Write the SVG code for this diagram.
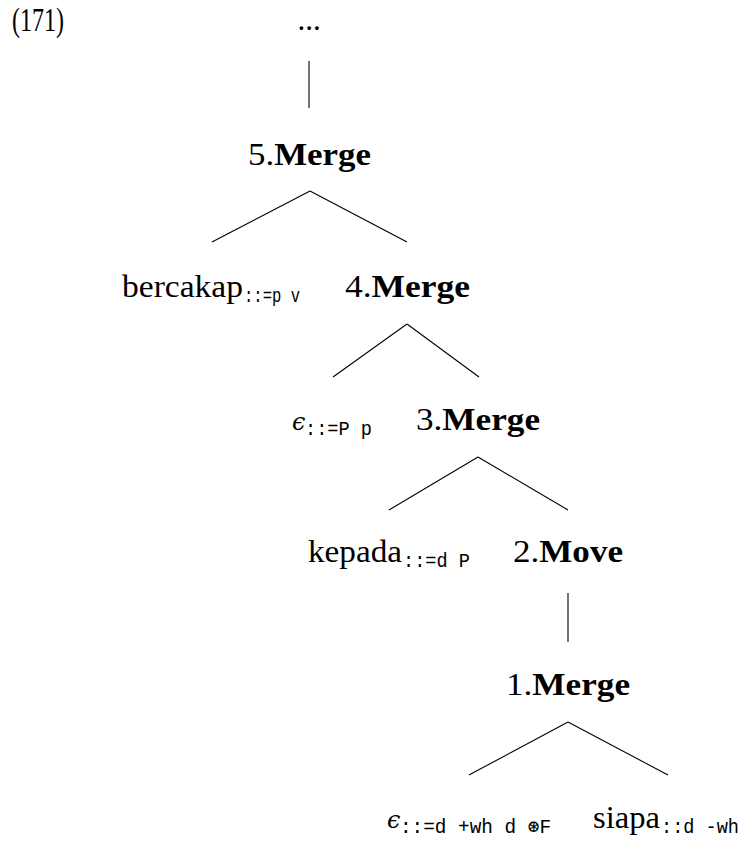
<svg xmlns="http://www.w3.org/2000/svg" width="744" height="841" viewBox="0 0 744 841">
<style>
.rm{font-family:"Liberation Serif","DejaVu Serif",serif;font-size:31px;fill:#000}
.bf{font-weight:bold}
.eps{font-family:"DejaVu Serif","Liberation Serif",serif;font-size:24px;font-style:italic;fill:#000}
.tt{font-family:"Liberation Mono","DejaVu Sans Mono",monospace;font-size:20px;fill:#000}
.edge{stroke:#000;stroke-width:1.1;fill:none}
</style>
<rect width="744" height="841" fill="#fff"/>
<text class="rm" x="12" y="31" style="font-size:33px" textLength="52" lengthAdjust="spacingAndGlyphs">(171)</text>
<g id="connectors">
<line class="edge" x1="309" y1="61" x2="309" y2="108"/>
<line class="edge" x1="310" y1="191" x2="212" y2="242"/>
<line class="edge" x1="310" y1="191" x2="407" y2="242"/>
<line class="edge" x1="407" y1="324" x2="333" y2="377"/>
<line class="edge" x1="407" y1="324" x2="479" y2="377"/>
<line class="edge" x1="478" y1="457" x2="389" y2="510"/>
<line class="edge" x1="478" y1="457" x2="568" y2="510"/>
<line class="edge" x1="568" y1="593" x2="568" y2="642"/>
<line class="edge" x1="568" y1="722" x2="469" y2="775"/>
<line class="edge" x1="568" y1="722" x2="668" y2="775"/>
</g>
<g id="root"><text class="rm" x="309" y="30" text-anchor="middle">...</text></g>
<g id="merge5"><text class="rm" x="248" y="165" textLength="123" lengthAdjust="spacingAndGlyphs">5.<tspan class="bf">Merge</tspan></text></g>
<g id="bercakap"><text class="rm" x="122" y="297" textLength="121" lengthAdjust="spacingAndGlyphs">bercakap</text><text class="tt" x="244" y="302" textLength="56" lengthAdjust="spacingAndGlyphs">::=p v</text></g>
<g id="merge4"><text class="rm" x="345" y="297" textLength="125" lengthAdjust="spacingAndGlyphs">4.<tspan class="bf">Merge</tspan></text></g>
<g id="eps1"><text class="eps" x="292" y="430">ϵ</text><text class="tt" x="305" y="435" textLength="67" lengthAdjust="spacingAndGlyphs">::=P p</text></g>
<g id="merge3"><text class="rm" x="416" y="430" textLength="124" lengthAdjust="spacingAndGlyphs">3.<tspan class="bf">Merge</tspan></text></g>
<g id="kepada"><text class="rm" x="308" y="562" textLength="94" lengthAdjust="spacingAndGlyphs">kepada</text><text class="tt" x="403" y="567" textLength="67" lengthAdjust="spacingAndGlyphs">::=d P</text></g>
<g id="move2"><text class="rm" x="513" y="562" textLength="110" lengthAdjust="spacingAndGlyphs">2.<tspan class="bf">Move</tspan></text></g>
<g id="merge1"><text class="rm" x="506" y="695" textLength="124" lengthAdjust="spacingAndGlyphs">1.<tspan class="bf">Merge</tspan></text></g>
<g id="eps2"><text class="eps" x="387" y="828">ϵ</text><text class="tt" x="400" y="833" textLength="151" lengthAdjust="spacingAndGlyphs">::=d +wh d ⊛F</text></g>
<g id="siapa"><text class="rm" x="593" y="828" textLength="67" lengthAdjust="spacingAndGlyphs">siapa</text><text class="tt" x="661" y="833" textLength="78" lengthAdjust="spacingAndGlyphs">::d -wh</text></g>
</svg>
